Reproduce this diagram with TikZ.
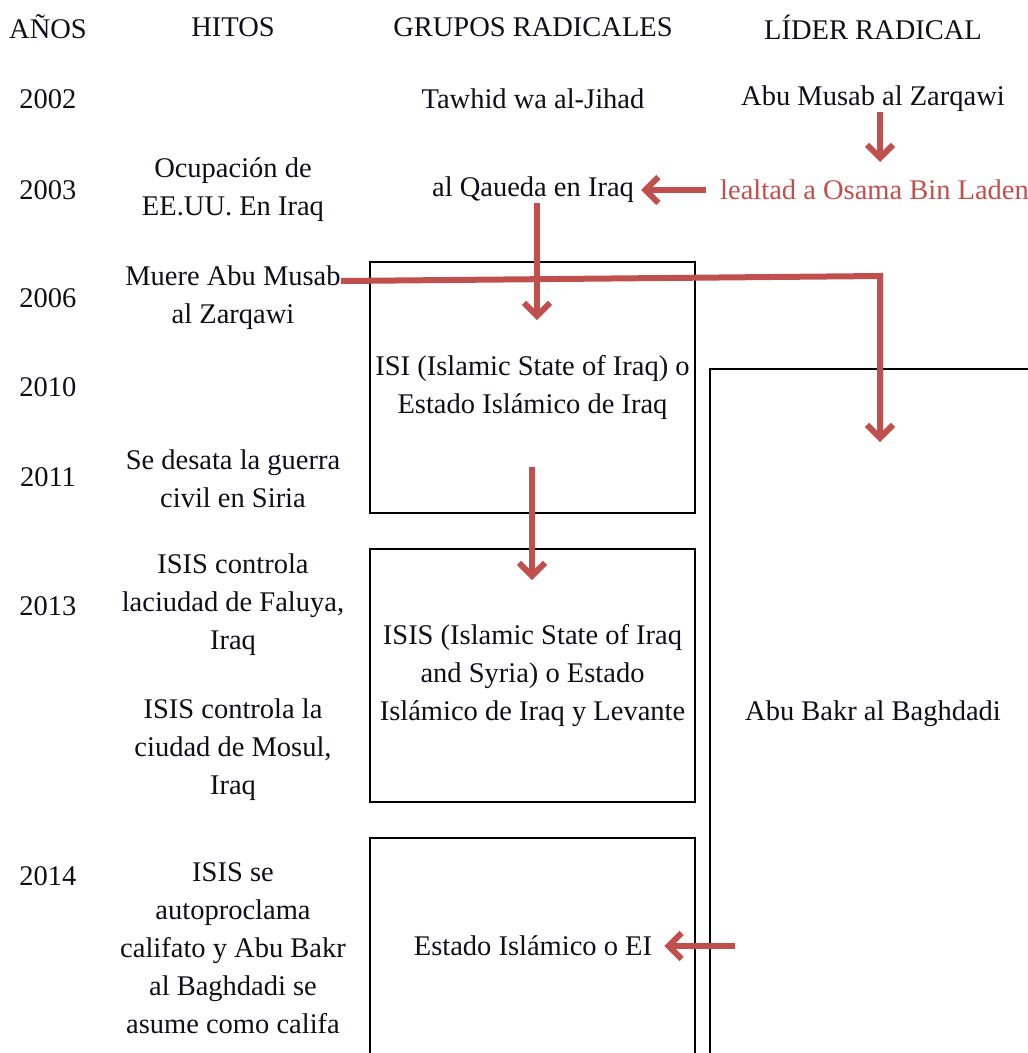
\documentclass[tikz,border=0pt]{standalone}
\usepackage{fontspec}
\setmainfont{Liberation Serif}
\usepackage{tikz}
\usetikzlibrary{arrows.meta}
\definecolor{rojo}{RGB}{192,80,77}
\definecolor{tinta}{RGB}{15,15,25}

\begin{document}
\begin{tikzpicture}[x=1pt,y=-1pt,
		txt/.style={inner sep=0pt,align=center,text=tinta,font=\fontsize{28.5}{38}\selectfont},
		caja/.style={draw=black,line width=2.6pt},
		flechaR/.style={draw=rojo,line width=6pt,-{Straight Barb[length=13pt,width=26pt]}}]
		\useasboundingbox (0,0) rectangle (1028,1053);
		% encabezados
		\node [txt] (hAnos) at (48,27) {AÑOS};
		\node [txt] (hHitos) at (233,27) {HITOS};
		\node [txt] (hGrupos) at (533,27) {GRUPOS RADICALES};
		\node [txt] (hLider) at (873,27) {LÍDER RADICAL};
		% años
		\foreach \anio/\y in {2002/99,2003/190,2006/298,2010/387,2011/477,2013/606,2014/876}
			\node [txt] (a\anio) at (48,\y) {\anio};
		% hitos
		\node [txt] (ocupacion) at (233,190) {Ocupación de\\EE.UU. En Iraq};
		\node [txt] (muere) at (233,298) {Muere Abu Musab\\al Zarqawi};
		\node [txt] (guerra) at (233,479) {Se desata la guerra\\civil en Siria};
		\node [txt] (faluya) at (233,605) {ISIS controla\\laciudad de Faluya,\\Iraq};
		\node [txt] (mosul) at (233,750) {ISIS controla la\\ciudad de Mosul,\\Iraq};
		\node [txt] (califato) at (233,948) {ISIS se\\autoproclama\\califato y Abu Bakr\\al Baghdadi se\\asume como califa};
		% grupos radicales
		\node [txt] (tawhid) at (533,99) {Tawhid wa al-Jihad};
		\node [txt] (alqaeda) at (533,190) {al Qaueda en Iraq};
		\node [txt,caja,minimum width=325pt,minimum height=251pt] (isi) at (532.5,387.5) {ISI (Islamic State of Iraq) o\\Estado Islámico de Iraq};
		\node [txt,caja,minimum width=325pt,minimum height=253pt] (isis) at (532.5,675.5) {ISIS (Islamic State of Iraq\\and Syria) o Estado\\Islámico de Iraq y Levante};
		\draw [caja] (370,1060) |- (695,838) -- (695,1060);
		\node [txt] (ei) at (533,946) {Estado Islámico o EI};
		% lider radical
		\node [txt] (zarqawi) at (873,99) {Abu Musab al Zarqawi};
		\node [txt,text=rojo,anchor=west] (lealtad) at (720,190) {lealtad a Osama Bin Laden};
		\draw [caja] (710,1060) |- (1040,369);
		\node [txt] (baghdadi) at (873,714) {Abu Bakr al Baghdadi};
		% puntos sueltos de las flechas
		\coordinate (zFin) at (880,162);
		\coordinate (isiTope) at (537,320);
		\coordinate (giro) at (880,276);
		\coordinate (liderFin) at (880,442);
		\coordinate (isiBajo) at (532,467);
		\coordinate (isisTope) at (532,580);
		\coordinate (eiInicio) at (735,946);
		% flechas
		\draw [flechaR] (zarqawi.south -| zFin) -- (zFin);
		\draw [flechaR] ([xshift=-14pt]lealtad.west) -- ([xshift=7pt]alqaeda.east);
		\draw [flechaR] (alqaeda.south -| isiTope) -- (isiTope);
		\draw [flechaR] ([yshift=17pt]muere.east) -- (giro) -- (liderFin);
		\draw [flechaR] (isiBajo) -- (isisTope);
		\draw [flechaR] (eiInicio) -- ([xshift=12pt]ei.east);
\end{tikzpicture}
\end{document}
